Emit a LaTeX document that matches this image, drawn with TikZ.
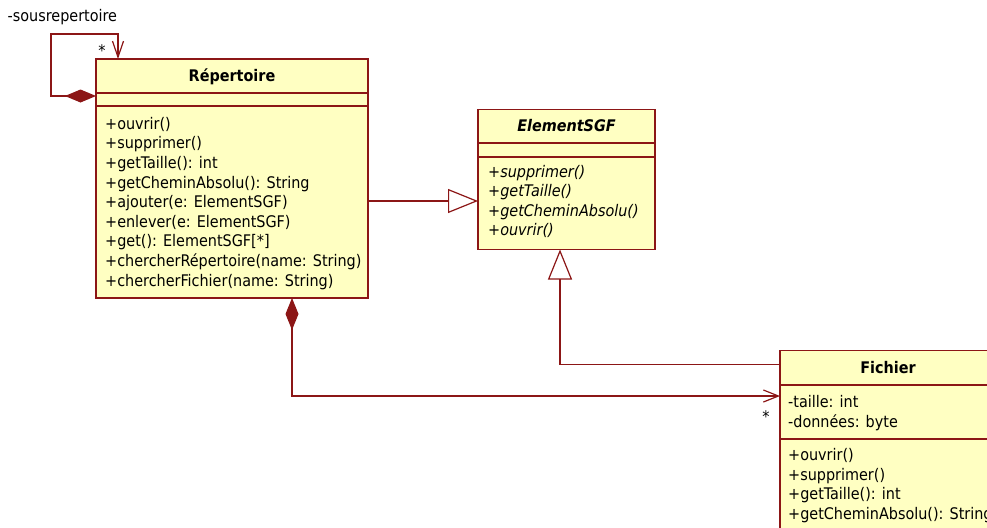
\documentclass[tikz,border=0pt]{standalone}
\usepackage{fontspec}
\setmainfont{DejaVu Sans Condensed}[
  BoldFont={DejaVu Sans Condensed Bold},
  ItalicFont={DejaVu Sans Condensed Oblique},
  BoldItalicFont={DejaVu Sans Condensed Bold Oblique}]
\usetikzlibrary{arrows.meta,calc}
\definecolor{umlline}{RGB}{140,22,22}
\definecolor{umlfill}{RGB}{255,255,194}
\tikzset{
  compart/.style={draw=umlline, fill=umlfill, line width=1.2pt, anchor=north west,
    inner sep=0pt, outer sep=0pt},
  classname/.style={font=\fontsize{16}{19.6}\selectfont\bfseries, text height=13pt, text depth=2.5pt},
  member/.style={anchor=base west, inner sep=0pt, font=\fontsize{16}{19.6}\selectfont},
  mult/.style={inner sep=0pt, font=\fontsize{16}{19.6}\selectfont},
  link/.style={draw=umlline, line width=1.2pt},
  gen/.style={link, -{Triangle[length=30pt,width=24pt,open,fill=white]}},
  comp/.style={link, {Diamond[length=32pt,width=13pt]}-{Straight Barb[length=15pt,width=12pt]}},
}
\begin{document}
\begin{tikzpicture}[x=1pt,y=-1pt]
\clip (0,0) rectangle (987,527);
\fill[white] (0,0) rectangle (987,527);

% class Repertoire
\node[compart, minimum width=272pt, minimum height=34pt] (rephead) at (96,59) {};
\node[classname] (repname) at (rephead.center) {Répertoire};
\node[compart, minimum width=272pt, minimum height=13pt] (repattr) at (96,93) {};
\node[compart, minimum width=272pt, minimum height=192pt] (repops) at (96,106) {};
\foreach \t [count=\i from 0] in {+ouvrir(), +supprimer(), +getTaille(): int,
    +getCheminAbsolu(): String, +ajouter(e: ElementSGF), +enlever(e: ElementSGF),
    +get(): ElementSGF[*], +chercherRépertoire(name: String),
    +chercherFichier(name: String)}
  \node[member] (repop\i) at (105,129.3+19.6*\i) {\t};

% abstract class ElementSGF
\node[compart, minimum width=177pt, minimum height=33.5pt] (elemhead) at (478,109.5) {};
\node[classname, font=\fontsize{16}{19.6}\selectfont\bfseries\itshape] (elemname) at (elemhead.center) {ElementSGF};
\node[compart, minimum width=177pt, minimum height=14pt] (elemattr) at (478,143) {};
\node[compart, minimum width=177pt, minimum height=92.5pt] (elemops) at (478,157) {};
\foreach \t [count=\i from 0] in {+supprimer(), +getTaille(), +getCheminAbsolu(), +ouvrir()}
  \node[member, font=\fontsize{16}{19.6}\selectfont\itshape] (elemop\i) at (488,177+19.6*\i) {\t};

% class Fichier
\node[compart, minimum width=216pt, minimum height=34.5pt] (fichhead) at (780,350.5) {};
\node[classname] (fichname) at (fichhead.center) {Fichier};
\node[compart, minimum width=216pt, minimum height=54pt] (fichattr) at (780,385) {};
\node[compart, minimum width=216pt, minimum height=110pt] (fichops) at (780,439) {};
\node[member] (fichat0) at (788,407.5) {-taille: int};
\node[member] (fichat1) at (788,427) {-données: byte};
\foreach \t [count=\i from 0] in {+ouvrir(), +supprimer(), +getTaille(): int,
    +getCheminAbsolu(): String}
  \node[member] (fichop\i) at (788,460.7+19.6*\i) {\t};

% self composition of Repertoire (sub-directories)
\coordinate (selfA) at ($(rephead.south west)+(0,3)$);
\coordinate (selfB) at ($(rephead.north west)+(22,0)$);
\draw[comp, {Diamond[length=31pt,width=13pt]}-{Straight Barb[length=16pt,width=11pt]}]
  (selfA) -- ++(-45,0) -- ++(0,-62) -| (selfB);
\node[member] (rolename) at (7.5,21.7) {-sousrepertoire};
\node[mult] (selfmult) at (102,51) {*};

% generalisations
\draw[gen] ([yshift=1pt]repops.east) -- ([yshift=1pt]repops.east -| elemops.west);
\coordinate (fichA) at ($(fichhead.west)+(0,-3)$);
\coordinate (elemB) at ($(elemops.south)+(-6.5,0)$);
\draw[gen] (fichA) -| (elemB);

% composition Repertoire -> Fichier
\coordinate (repC) at ($(repops.south)+(60,0)$);
\coordinate (fichC) at ($(fichattr.north west)+(0,11)$);
\draw[comp] (repC) |- (fichC);
\node[mult] (fichmult) at (766,417) {*};
\end{tikzpicture}
\end{document}
